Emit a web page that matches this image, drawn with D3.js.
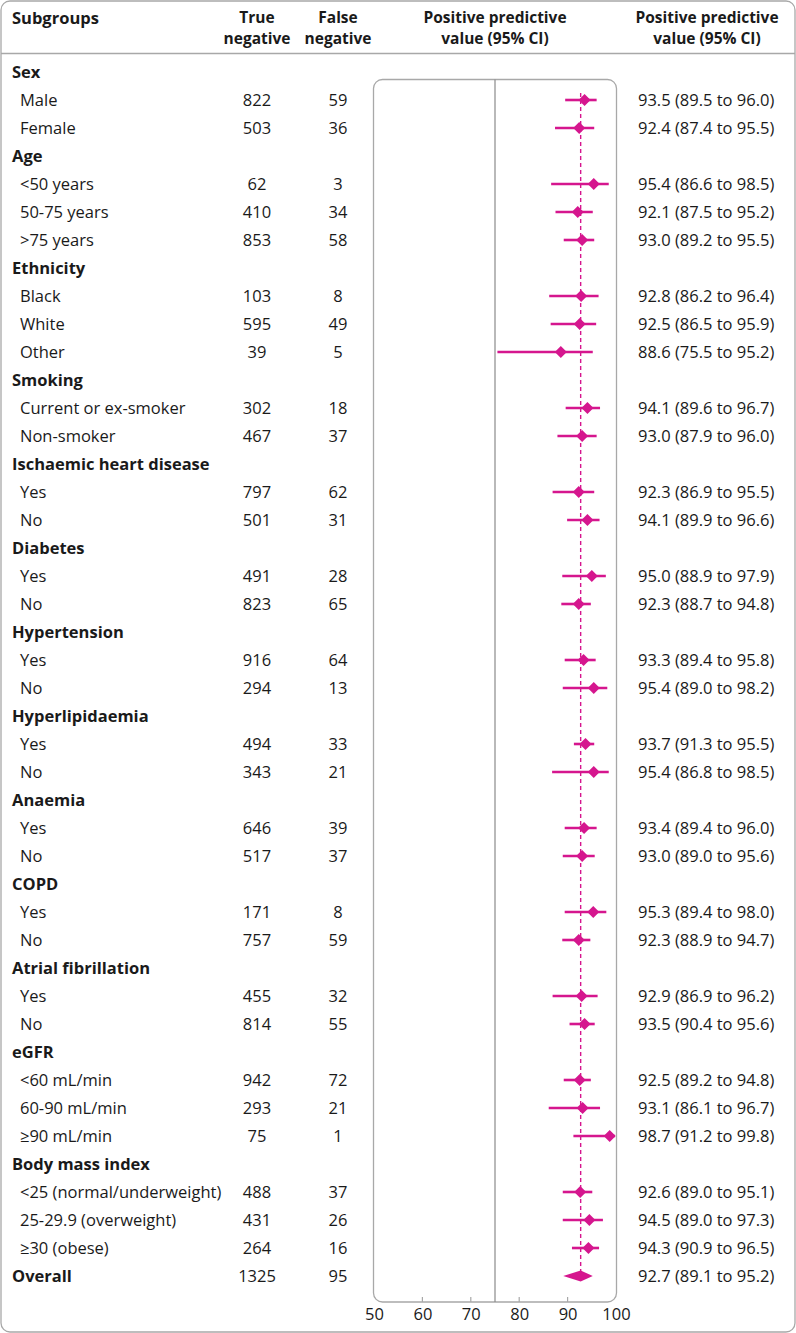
<!DOCTYPE html>
<html><head><meta charset="utf-8">
<script src="https://cdn.jsdelivr.net/npm/d3@7"></script>
<style>
html,body{margin:0;padding:0;background:#fff;}
svg{display:block;}
text{font-family:"Open Sans",sans-serif;fill:#1a1a1a;}
</style></head><body>
<svg id="c" width="796" height="1333"></svg>
<script>
// ---- data ----
const rowLabels = ["Sex","Male","Female","Age","<50 years","50-75 years",">75 years","Ethnicity","Black","White","Other","Smoking","Current or ex-smoker","Non-smoker","Ischaemic heart disease","Yes","No","Diabetes","Yes","No","Hypertension","Yes","No","Hyperlipidaemia","Yes","No","Anaemia","Yes","No","COPD","Yes","No","Atrial fibrillation","Yes","No","eGFR","<60 mL/min","60-90 mL/min","≥90 mL/min","Body mass index","<25 (normal/underweight)","25-29.9 (overweight)","≥30 (obese)","Overall"];
const rowType = ["h","s","s","h","s","s","s","h","s","s","s","h","s","s","h","s","s","h","s","s","h","s","s","h","s","s","h","s","s","h","s","s","h","s","s","h","s","s","s","h","s","s","s","o"];
const trueNeg  = [null,822,503,null,62,410,853,null,103,595,39,null,302,467,null,797,501,null,491,823,null,916,294,null,494,343,null,646,517,null,171,757,null,455,814,null,942,293,75,null,488,431,264,1325];
const falseNeg = [null,59,36,null,3,34,58,null,8,49,5,null,18,37,null,62,31,null,28,65,null,64,13,null,33,21,null,39,37,null,8,59,null,32,55,null,72,21,1,null,37,26,16,95];
const ppv      = [null,93.5,92.4,null,95.4,92.1,93.0,null,92.8,92.5,88.6,null,94.1,93.0,null,92.3,94.1,null,95.0,92.3,null,93.3,95.4,null,93.7,95.4,null,93.4,93.0,null,95.3,92.3,null,92.9,93.5,null,92.5,93.1,98.7,null,92.6,94.5,94.3,92.7];
const ciLow    = [null,89.5,87.4,null,86.6,87.5,89.2,null,86.2,86.5,75.5,null,89.6,87.9,null,86.9,89.9,null,88.9,88.7,null,89.4,89.0,null,91.3,86.8,null,89.4,89.0,null,89.4,88.9,null,86.9,90.4,null,89.2,86.1,91.2,null,89.0,89.0,90.9,89.1];
const ciHigh   = [null,96.0,95.5,null,98.5,95.2,95.5,null,96.4,95.9,95.2,null,96.7,96.0,null,95.5,96.6,null,97.9,94.8,null,95.8,98.2,null,95.5,98.5,null,96.0,95.6,null,98.0,94.7,null,96.2,95.6,null,94.8,96.7,99.8,null,95.1,97.3,96.5,95.2];
const xTicks = [50,60,70,80,90,100];
const refLine = 75;
const headers = [["Subgroups"],["True","negative"],["False","negative"],["Positive predictive","value (95% CI)"],["Positive predictive","value (95% CI)"]];

// ---- layout ----
const W = 796, H = 1333;
const pink = "#d5168e";
const svg = d3.select("#c");
const fs = 16.5, hfs = 15.5;

svg.append("rect").attr("x",1).attr("y",1).attr("width",W-2).attr("height",H-2)
  .attr("rx",9).attr("fill","none").attr("stroke","#a8a8a8").attr("stroke-width",1.3);
svg.append("line").attr("x1",1).attr("x2",W-1).attr("y1",53.5).attr("y2",53.5)
  .attr("stroke","#a8a8a8").attr("stroke-width",1.3);

const idx = d3.range(rowLabels.length);
const y = d3.scaleBand().domain(idx).range([58, 58 + 28*rowLabels.length]);
const yc = i => y(i) + y.bandwidth()/2;

const x = d3.scaleLinear().domain([50,100]).range([374,616]);
const colTN = 257, colFN = 338, colPlot = 495, colTxt = 638, colTxtC = 707;

// headers
const hx = [{x:12,a:"start"},{x:colTN,a:"middle"},{x:colFN,a:"middle"},{x:colPlot,a:"middle"},{x:colTxtC,a:"middle"}];
headers.forEach((h,i)=>{
  h.forEach((s,j)=>{
    svg.append("text").attr("x",hx[i].x).attr("y",i===0 ? 24 : 22.5+j*21.5).attr("text-anchor",hx[i].a)
      .attr("font-size", i===0 ? fs : hfs).attr("font-weight","bold").text(s);
  });
});

// plot box
const boxTop = 79.5, boxBot = 1302;
svg.append("rect").attr("x",x(50)-0.5).attr("y",boxTop).attr("width",x(100)-x(50)+1).attr("height",boxBot-boxTop)
  .attr("rx",9).attr("fill","none").attr("stroke","#a8a8a8").attr("stroke-width",1.3);
svg.append("line").attr("x1",x(refLine)).attr("x2",x(refLine)).attr("y1",boxTop).attr("y2",boxBot)
  .attr("stroke","#8a8a8a").attr("stroke-width",1.2);

// axis
const axis = d3.axisBottom(x).tickValues(xTicks).tickSize(0).tickPadding(0);
const ag = svg.append("g").attr("transform",`translate(0,${boxBot})`).call(axis);
ag.select(".domain").remove();
ag.selectAll("text").attr("font-size",fs).attr("font-family","Open Sans, sans-serif").attr("fill","#1a1a1a").attr("dy",null).attr("y",18);
svg.selectAll(".itick").data(xTicks.filter(v=>v>50&&v<100)).enter().append("line")
  .attr("x1",d=>x(d)).attr("x2",d=>x(d)).attr("y1",boxBot-5).attr("y2",boxBot)
  .attr("stroke","#a8a8a8").attr("stroke-width",1.2);

// rows text
idx.forEach(i=>{
  const t = rowType[i];
  const base = yc(i) + 6;
  svg.append("text").attr("x", t==="s"?20:12).attr("y",base).attr("font-size",fs)
    .attr("font-weight", t==="s"?"normal":"bold").text(rowLabels[i]);
  if (trueNeg[i]!==null){
    svg.append("text").attr("x",colTN).attr("y",base).attr("text-anchor","middle").attr("font-size",fs).text(trueNeg[i]);
    svg.append("text").attr("x",colFN).attr("y",base).attr("text-anchor","middle").attr("font-size",fs).text(falseNeg[i]);
    svg.append("text").attr("x",colTxt).attr("y",base).attr("font-size",fs)
      .text(`${ppv[i].toFixed(1)} (${ciLow[i].toFixed(1)} to ${ciHigh[i].toFixed(1)})`);
  }
});

// dashed overall line
const oi = rowType.indexOf("o");
const firstS = rowType.indexOf("s");
svg.append("line").attr("x1",x(ppv[oi])).attr("x2",x(ppv[oi])).attr("y1",yc(firstS)-7).attr("y2",yc(oi))
  .attr("stroke",pink).attr("stroke-width",1.4).attr("stroke-dasharray","4,3");

// CIs and points
idx.filter(i=>rowType[i]==="s").forEach(i=>{
  svg.append("line").attr("x1",x(ciLow[i])).attr("x2",x(ciHigh[i])).attr("y1",yc(i)).attr("y2",yc(i))
    .attr("stroke",pink).attr("stroke-width",2.6);
  const cx = x(ppv[i]), cy = yc(i), r = 6;
  svg.append("path").attr("d",`M${cx-r},${cy}L${cx},${cy-r}L${cx+r},${cy}L${cx},${cy+r}Z`).attr("fill",pink);
});
// overall diamond
{
  const cy = yc(oi), h = 5.5;
  svg.append("path").attr("d",`M${x(ciLow[oi])},${cy}L${x(ppv[oi])},${cy-h}L${x(ciHigh[oi])},${cy}L${x(ppv[oi])},${cy+h}Z`).attr("fill",pink);
}
</script>
</body></html>
